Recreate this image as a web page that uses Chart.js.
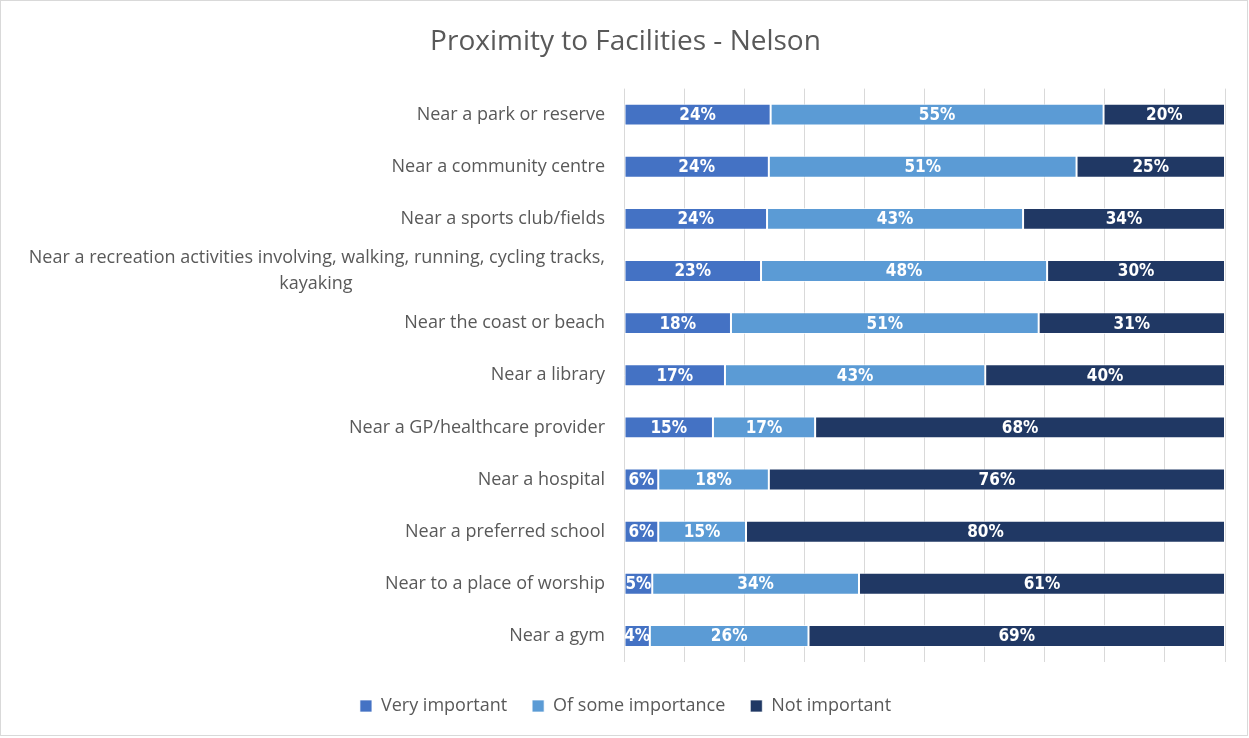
<!DOCTYPE html>
<html>
<head>
<meta charset="utf-8">
<script src="https://cdn.jsdelivr.net/npm/chart.js@4/dist/chart.umd.min.js"></script>
<style>
  html, body { margin: 0; padding: 0; background: #fff; }
  #wrap { width: 1249px; height: 738px; }
</style>
</head>
<body>
<div id="wrap"><canvas id="facilitiesChart" width="1249" height="738"></canvas></div>
<script>
const categories = [
  "Near a park or reserve",
  "Near a community centre",
  "Near a sports club/fields",
  // second line padded so it sits centred under the first, as in the original
  ["Near a recreation activities involving, walking, running, cycling tracks,", "kayaking" + " ".repeat(54)],
  "Near the coast or beach",
  "Near a library",
  "Near a GP/healthcare provider",
  "Near a hospital",
  "Near a preferred school",
  "Near to a place of worship",
  "Near a gym"
];

// shares (labels show the rounded value)
const veryImportant    = [24.4, 24.1, 23.8, 22.8, 17.8, 16.8, 14.8, 5.7, 5.7, 4.7, 4.3];
const someImportance   = [55.4, 51.2, 42.6, 47.6, 51.2, 43.3, 17.0, 18.4, 14.6, 34.4, 26.4];
const notImportant     = [20.2, 24.7, 33.6, 29.6, 31.0, 39.9, 68.2, 75.9, 79.7, 60.9, 69.3];

const textColor = "#595959";
const ctx = document.getElementById("facilitiesChart").getContext("2d");

// draws the percentage inside each segment
const barLabels = {
  id: "barLabels",
  afterDatasetsDraw(chart) {
    const c = chart.ctx;
    c.save();
    c.fillStyle = "#ffffff";
    c.font = "bold 17px 'DejaVu Sans Condensed', sans-serif";
    c.textAlign = "center";
    c.textBaseline = "middle";
    chart.data.datasets.forEach((ds, i) => {
      const meta = chart.getDatasetMeta(i);
      meta.data.forEach((bar, j) => {
        const cx = (bar.x + bar.base) / 2;
        c.fillText(Math.round(ds.data[j]) + "%", cx, bar.y + 1);
      });
    });
    c.restore();
  }
};

// light frame around the whole chart
const frame = {
  id: "frame",
  beforeDraw(chart) {
    const c = chart.ctx;
    c.save();
    c.strokeStyle = "#d9d9d9";
    c.lineWidth = 1;
    c.strokeRect(0.5, 0.5, chart.width - 2, chart.height - 3);
    c.restore();
  }
};

new Chart(ctx, {
  type: "bar",
  data: {
    labels: categories,
    datasets: [
      { label: "Very important", data: veryImportant, backgroundColor: "#4472C4" },
      { label: "Of some importance", data: someImportance, backgroundColor: "#5B9BD5" },
      { label: "Not important", data: notImportant, backgroundColor: "#203864" }
    ]
  },
  options: {
    indexAxis: "y",
    responsive: false,
    animation: false,
    datasets: {
      bar: {
        barPercentage: 0.42,
        categoryPercentage: 1,
        borderColor: "rgba(255,255,255,0.7)",
        borderWidth: 1,
        borderSkipped: false
      }
    },
    layout: { padding: { left: 26, right: 24, top: 0, bottom: 13 } },
    plugins: {
      title: {
        display: true,
        text: "Proximity to Facilities - Nelson",
        color: textColor,
        font: { family: "'Open Sans', sans-serif", size: 28, weight: "normal" },
        padding: { top: 25, bottom: 30 }
      },
      legend: {
        position: "bottom",
        labels: {
          color: textColor,
          font: { family: "'Open Sans', sans-serif", size: 18 },
          boxWidth: 12,
          boxHeight: 12,
          padding: 25
        }
      },
      tooltip: { enabled: false }
    },
    scales: {
      x: {
        stacked: true,
        min: 0,
        max: 100,
        ticks: { display: false, stepSize: 10 },
        grid: { color: "#d9d9d9", drawTicks: false },
        border: { display: false },
        afterFit(scale) { scale.height = 10; }
      },
      y: {
        stacked: true,
        grid: { display: false, drawTicks: false },
        border: { display: false },
        ticks: {
          color: textColor,
          autoSkip: false,
          font: { family: "'Open Sans', sans-serif", size: 18, lineHeight: 1.45 },
          padding: 19
        },
        afterFit(scale) { scale.width = 598; }
      }
    }
  },
  plugins: [barLabels, frame]
});
</script>
</body>
</html>
